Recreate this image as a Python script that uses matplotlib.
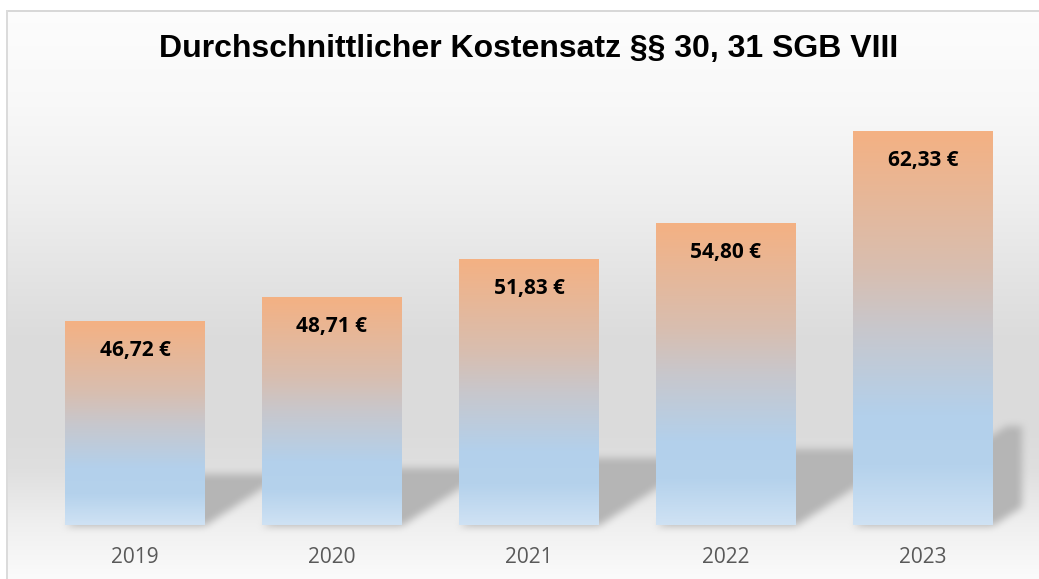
import numpy as np
import matplotlib
matplotlib.use("Agg")
import matplotlib.pyplot as plt
from matplotlib import font_manager
from matplotlib.colors import LinearSegmentedColormap

# ---- data ----
years = ["2019", "2020", "2021", "2022", "2023"]
values = [46.72, 48.71, 51.83, 54.80, 62.33]
labels = ["46,72 €", "48,71 €", "51,83 €", "54,80 €", "62,33 €"]
title = "Durchschnittlicher Kostensatz §§ 30, 31 SGB VIII"

W, H, DPI = 1039, 579, 100
fig = plt.figure(figsize=(W / DPI, H / DPI), dpi=DPI)

names = {f.name for f in font_manager.fontManager.ttflist}
title_font = "Liberation Sans Narrow" if "Liberation Sans Narrow" in names else "Liberation Sans"
title_size = 27 if title_font == "Liberation Sans Narrow" else 23

# main axes
ax = fig.add_axes([36.5 / W, (H - 525) / H, 985 / W, 426 / H])
ax.set_facecolor("none")
ax.set_zorder(2)
x = np.arange(len(years))
bw = 0.71
ymin, ymax = 30, 65
ax.set_xlim(-0.5, len(years) - 0.5)
ax.set_ylim(ymin, ymax)

# bar gradient
stops = [(0.0, (244, 177, 131)), (0.35, (216, 190, 176)), (0.5, (200, 199, 204)),
         (0.72, (179, 208, 235)), (0.85, (181, 210, 236)), (1.0, (207, 226, 244))]
cmap = LinearSegmentedColormap.from_list(
    "bar", [(p, tuple(c / 255 for c in col)) for p, col in stops])
grad = np.linspace(0, 1, 256).reshape(-1, 1)

bars = ax.bar(x, np.array(values) - ymin, bottom=ymin, width=bw,
              facecolor="none", edgecolor="none", zorder=3)
for b, v in zip(bars, values):
    im = ax.imshow(grad, cmap=cmap, aspect="auto", interpolation="bilinear",
                   extent=(b.get_x(), b.get_x() + b.get_width(), ymin, v),
                   origin="upper", zorder=3)
    im.set_clip_path(b)
ax.set_aspect("auto")
ax.set_xlim(-0.5, len(years) - 0.5)
ax.set_ylim(ymin, ymax)

for xi, v, lab in zip(x, values, labels):
    ax.annotate(lab, (xi, v), xytext=(0, -21), textcoords="offset points",
                ha="center", va="center", fontsize=15, fontweight="bold",
                family="Open Sans", color="black", zorder=5)

ax.set_xticks(x)
ax.set_xticklabels(years, fontsize=15, family="Open Sans", color="#595959")
ax.tick_params(axis="x", length=0, pad=16)
ax.set_yticks([])
for s in ax.spines.values():
    s.set_visible(False)

# ---- background image with gradient and bar shadows ----
rows = np.arange(H)
gy = np.interp(rows, [12, 100, 200, 300, 340, 430, 470, 525, 579],
               [0.99, 0.975, 0.935, 0.88, 0.86, 0.86, 0.875, 0.94, 0.985])
bg = np.repeat(gy[:, None], W, axis=1)

mask = np.zeros((H, W))
cols = np.arange(W)
slope = 0.65
ax_right = ax.transAxes.transform((1, 0))[0]
for b, v in zip(bars, values):
    (xl, yb), (xr, yt) = ax.transData.transform(
        [(b.get_x(), ymin), (b.get_x() + b.get_width(), v)])
    base = H - yb
    top = H - yt
    hh = base - top
    stop = base - 0.25 * hh
    for r in range(int(stop), int(base) + 1):
        d = (base - r) / slope
        sel = (cols >= xl + d) & (cols <= xr + d) & (cols <= ax_right)
        mask[r, sel] = 1.0

def box_blur(a, r):
    k = np.ones(2 * r + 1) / (2 * r + 1)
    a = np.apply_along_axis(lambda m: np.convolve(m, k, mode="same"), 0, a)
    a = np.apply_along_axis(lambda m: np.convolve(m, k, mode="same"), 1, a)
    return a

for _ in range(2):
    mask = box_blur(mask, 4)
shadow = 0.71
bg = bg * (1 - mask) + shadow * mask

# frame
bg[:10, :] = 1.0
bg[:, :6] = 1.0
bg[10:12, 6:] = 0.85
bg[10:, 6:8] = 0.86

img = np.dstack([bg, bg, bg])
bg_ax = fig.add_axes([0, 0, 1, 1])
bg_ax.set_zorder(0)
bg_ax.imshow(img, aspect="auto", interpolation="nearest")
bg_ax.axis("off")

fig.text(529 / W, 1 - 49 / H, title, ha="center", va="center",
         fontsize=title_size, fontweight="bold", family=title_font, color="black",
         zorder=10)

fig.savefig("out.png", dpi=DPI)
